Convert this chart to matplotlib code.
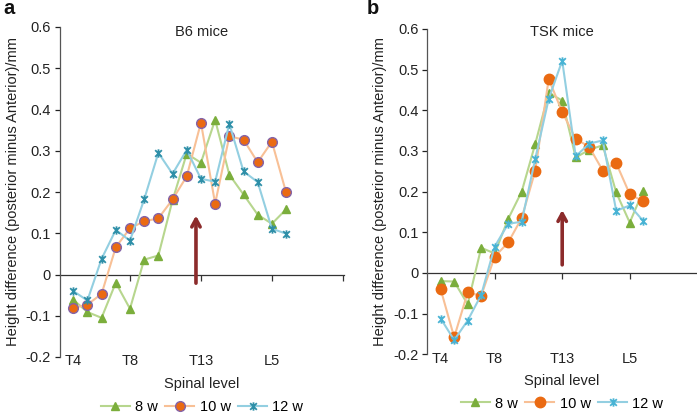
import matplotlib
matplotlib.use("Agg")
import matplotlib.pyplot as plt
from matplotlib.path import Path
from matplotlib.ticker import FuncFormatter, MultipleLocator

plt.rcParams['font.family'] = ['Liberation Sans', 'DejaVu Sans']
plt.rcParams['axes.unicode_minus'] = False

# ---------------- data ----------------
levels = ['T4', 'T5', 'T6', 'T7', 'T8', 'T9', 'T10', 'T11', 'T12', 'T13',
          'L1', 'L2', 'L3', 'L4', 'L5', 'L6']
shown_labels = ['T4', 'T8', 'T13', 'L5']
series_names = ['8 w', '10 w', '12 w']

b6_8w = [-0.061, -0.091, -0.105, -0.020, -0.083, 0.036, 0.046, 0.180, 0.293, 0.271,
         0.375, 0.242, 0.194, 0.145, 0.123, 0.158]
b6_10w = [-0.081, -0.073, -0.047, 0.066, 0.112, 0.129, 0.136, 0.182, 0.238, 0.368,
          0.172, 0.335, 0.327, 0.272, 0.322, 0.199]
b6_12w = [-0.040, -0.063, 0.038, 0.108, 0.082, 0.182, 0.295, 0.244, 0.302, 0.232,
          0.225, 0.365, 0.250, 0.224, 0.111, 0.099]

tsk_8w = [-0.020, -0.021, -0.077, 0.062, 0.048, 0.133, 0.200, 0.317, 0.443, 0.424,
          0.284, 0.303, 0.314, 0.198, 0.124, 0.202]
tsk_10w = [-0.040, -0.158, -0.048, -0.056, 0.040, 0.075, 0.135, 0.251, 0.477, 0.396,
           0.330, 0.310, 0.252, 0.270, 0.194, 0.176]
tsk_12w = [-0.112, -0.165, -0.117, -0.054, 0.065, 0.121, 0.126, 0.280, 0.428, 0.522,
           0.287, 0.318, 0.326, 0.153, 0.166, 0.128]

# arrow (x position in category units, y start, y end)
b6_arrow = (8.65, -0.021, 0.143)
tsk_arrow = (9.0, 0.020, 0.155)

# ---------------- style ----------------
star = Path([(-1, -1), (1, 1), (-1, 1), (1, -1), (0, -1.25), (0, 1.25)],
            [Path.MOVETO, Path.LINETO, Path.MOVETO, Path.LINETO, Path.MOVETO, Path.LINETO])

green_line, green_mk = '#B7D68E', '#7BAE3C'
orange_line, orange_mk = '#F8C096', '#EA6A12'
blue_line = '#93CFE1'
arrow_col = '#8C2B2B'

fig = plt.figure(figsize=(6.97, 4.16), dpi=100)

panels = [
    dict(rect=[60/697, 1-357/416, 284/697, 330/416], title='B6 mice', letter='a',
         lx=3/697, ty=0.985, data=(b6_8w, b6_10w, b6_12w), arrow=b6_arrow,
         circ_edge='#8463A8', star_col='#2E8FA8', msize=7.0, xlim=(-0.93, 19.08)),
    dict(rect=[427.3/697, 1-354.3/416, 269.4/697, 325.3/416], title='TSK mice', letter='b',
         lx=367/697, ty=0.991, data=(tsk_8w, tsk_10w, tsk_12w), arrow=tsk_arrow,
         circ_edge=orange_mk, star_col='#48B3D4', msize=7.5, xlim=(-0.99, 18.96)),
]

for p in panels:
    ax = fig.add_axes(p['rect'])
    x = list(range(len(levels)))
    s8, s10, s12 = p['data']
    h1, = ax.plot(x, s8, color=green_line, lw=1.5, marker='^', ms=6,
                  mfc=green_mk, mec=green_mk, label=series_names[0], zorder=3)
    h2, = ax.plot(x, s10, color=orange_line, lw=1.5, marker='o', ms=p['msize'],
                  mfc=orange_mk, mec=p['circ_edge'], mew=1.0, label=series_names[1], zorder=3)
    h3, = ax.plot(x, s12, color=blue_line, lw=1.5, marker=star, ms=6,
                  mfc='none', mec=p['star_col'], mew=1.3, label=series_names[2], zorder=3)

    ax.set_xlim(*p['xlim'])
    ax.set_ylim(-0.2, 0.6)
    ax.yaxis.set_major_locator(MultipleLocator(0.1))
    ax.yaxis.set_major_formatter(FuncFormatter(lambda v, pos: f"{round(v, 1):g}"))
    ax.tick_params(axis='y', direction='out', length=3.5, width=0.9, labelsize=10.5,
                   colors='#222222', pad=3)
    for sp in ['top', 'right', 'bottom']:
        ax.spines[sp].set_visible(False)
    ax.spines['left'].set_color('#555555')
    ax.spines['left'].set_linewidth(0.9)

    # category labels at bottom
    ax.set_xticks([levels.index(l) for l in shown_labels])
    ax.set_xticklabels(shown_labels, fontsize=10.5, color='#222222')
    ax.tick_params(axis='x', length=0, pad=-2)

    # zero axis with tick marks every 5 categories
    sec = ax.secondary_xaxis(0.25)
    sec.set_xticks([4, 9, 14, 19])
    sec.set_xticklabels([])
    sec.tick_params(axis='x', direction='out', length=4, width=0.9, color='#333333')
    sec.spines['bottom'].set_color('#333333')
    sec.spines['bottom'].set_linewidth(0.9)

    ax.set_ylabel('Height difference (posterior minus Anterior)/mm', fontsize=10.5,
                  color='#222222', labelpad=4)
    ax.set_xlabel('Spinal level', fontsize=10.5, color='#222222', labelpad=6)
    ax.text(0.5, p['ty'], p['title'], transform=ax.transAxes, ha='center', va='center',
            fontsize=10.5, color='#222222')

    ax_x, y0, y1 = p['arrow']
    ax.annotate('', xy=(ax_x, y1), xytext=(ax_x, y0),
                arrowprops=dict(arrowstyle='->,head_length=0.55,head_width=0.3',
                                lw=2.6, color=arrow_col, shrinkA=0, shrinkB=0), zorder=2)

    ax.legend(handles=[h1, h2, h3], loc='upper center', bbox_to_anchor=(0.5, -0.112),
              ncol=3, frameon=False, fontsize=10.5, handlelength=2.0, handletextpad=0.35,
              columnspacing=0.5, borderaxespad=0)

    fig.text(p['lx'], 1 - 9/416, p['letter'], fontsize=14.5, fontweight='bold',
             ha='left', va='center', color='#111111')

fig.savefig('out.png', dpi=100)
